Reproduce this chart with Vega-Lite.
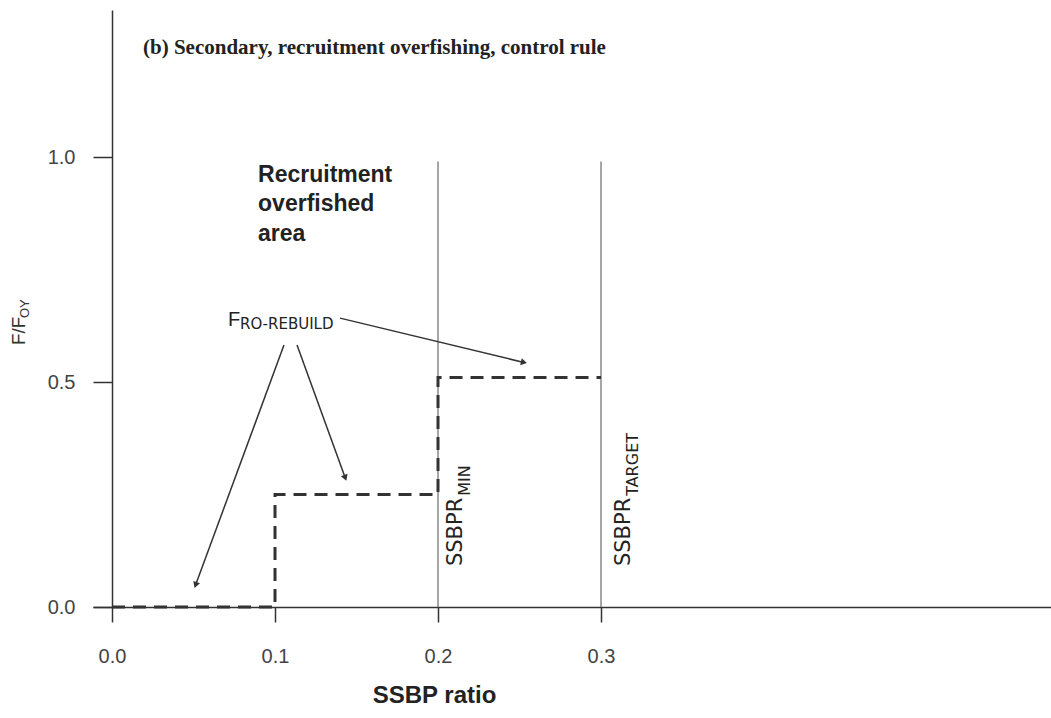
{
  "$schema": "https://vega.github.io/schema/vega-lite/v6.json",
  "autosize": "none",
  "padding": {"left": 93, "top": 10, "right": 0, "bottom": 111},
  "width": 958,
  "height": 597,
  "background": "white",
  "config": {"view": {"stroke": null}},
  "encoding": {
    "x": {
      "field": "x", "type": "quantitative",
      "scale": {"domain": [-0.01166, 0.57607], "nice": false, "zero": false},
      "axis": {
        "values": [0, 0.1, 0.2, 0.3], "format": ".1f", "grid": false,
        "domainColor": "#333", "domainWidth": 1.5,
        "tickColor": "#333", "tickWidth": 1.5, "tickSize": 15,
        "labelFont": "Liberation Sans", "labelFontSize": 20, "labelColor": "#444", "labelPadding": 24,
        "title": "SSBP ratio", "titleFont": "Liberation Sans", "titleFontSize": 24, "titleFontWeight": "bold",
        "titleColor": "#222", "titleX": 341, "titleY": 95, "titleBaseline": "alphabetic", "titleAlign": "center"
      }
    },
    "y": {
      "field": "y", "type": "quantitative",
      "scale": {"domain": [0, 1.3267], "nice": false, "zero": false},
      "axis": {
        "values": [0, 0.5, 1.0], "format": ".1f", "grid": false, "offset": -19,
        "domainColor": "#333", "domainWidth": 1.5,
        "tickColor": "#333", "tickWidth": 1.5, "tickSize": 19,
        "labelFont": "Liberation Sans", "labelFontSize": 20, "labelColor": "#444", "labelPadding": 18,
        "title": null
      }
    }
  },
  "layer": [
    {
      "data": {"values": [
        {"x": 0.2, "y": 0, "y2": 0.99},
        {"x": 0.3, "y": 0, "y2": 0.99}
      ]},
      "mark": {"type": "rule", "color": "#777", "strokeWidth": 1.3},
      "encoding": {"y2": {"field": "y2"}}
    },
    {
      "data": {"values": [
        {"x": 0.0, "y": 0.0, "o": 1},
        {"x": 0.1, "y": 0.0, "o": 2},
        {"x": 0.1, "y": 0.25, "o": 3},
        {"x": 0.2, "y": 0.25, "o": 4},
        {"x": 0.2, "y": 0.51, "o": 5},
        {"x": 0.3, "y": 0.51, "o": 6}
      ]},
      "mark": {"type": "line", "color": "#333", "strokeWidth": 3, "strokeDash": [13, 8]},
      "encoding": {"order": {"field": "o", "type": "quantitative"}}
    },
    {
      "data": {"values": [
        {"x": 0.1055, "y": 0.582, "x2": 0.0515, "y2": 0.051},
        {"x": 0.1135, "y": 0.582, "x2": 0.1429, "y2": 0.289},
        {"x": 0.1399, "y": 0.642, "x2": 0.2521, "y2": 0.544}
      ]},
      "mark": {"type": "rule", "color": "#333", "strokeWidth": 1.5},
      "encoding": {"x2": {"field": "x2"}, "y2": {"field": "y2"}}
    },
    {
      "data": {"values": [
        {"x": 0.0515, "y": 0.051, "angle": 200},
        {"x": 0.1429, "y": 0.289, "angle": 160},
        {"x": 0.2521, "y": 0.544, "angle": 103}
      ]},
      "mark": {"type": "point", "shape": "triangle", "filled": true, "color": "#333", "size": 50, "opacity": 1},
      "encoding": {"angle": {"field": "angle", "type": "quantitative", "scale": null}}
    },
    {
      "data": {"values": [
        {"x": 0.019, "y": 1.229, "text": "(b) Secondary, recruitment overfishing, control rule"}
      ]},
      "mark": {"type": "text", "font": "Liberation Serif", "fontWeight": "bold", "fontSize": 21, "color": "#222", "align": "left", "baseline": "alphabetic"},
      "encoding": {"text": {"field": "text"}}
    },
    {
      "data": {"values": [
        {"x": 0.0896, "y": 0.944, "text": "Recruitment"},
        {"x": 0.0896, "y": 0.880, "text": "overfished"},
        {"x": 0.0896, "y": 0.813, "text": "area"}
      ]},
      "mark": {"type": "text", "font": "Liberation Sans", "fontWeight": "bold", "fontSize": 23, "color": "#222", "align": "left", "baseline": "alphabetic"},
      "encoding": {"text": {"field": "text"}}
    },
    {
      "data": {"values": [
        {"x": 0.0712, "y": 0.624, "text": "F"}
      ]},
      "mark": {"type": "text", "font": "Liberation Sans", "fontSize": 20, "color": "#222", "align": "left", "baseline": "alphabetic"},
      "encoding": {"text": {"field": "text"}}
    },
    {
      "data": {"values": [
        {"x": 0.0785, "y": 0.617, "text": "RO-REBUILD"}
      ]},
      "mark": {"type": "text", "font": "DejaVu Sans", "fontSize": 15, "color": "#222", "align": "left", "baseline": "alphabetic"},
      "encoding": {"text": {"field": "text"}}
    },
    {
      "data": {"values": [
        {"x": 0.2147, "y": 0.091, "text": "SSBPR"},
        {"x": 0.3178, "y": 0.091, "text": "SSBPR"}
      ]},
      "mark": {"type": "text", "font": "DejaVu Sans", "fontSize": 21, "color": "#222", "align": "left", "baseline": "alphabetic", "angle": 270},
      "encoding": {"text": {"field": "text"}}
    },
    {
      "data": {"values": [
        {"x": 0.2196, "y": 0.247, "text": "MIN"},
        {"x": 0.3227, "y": 0.247, "text": "TARGET"}
      ]},
      "mark": {"type": "text", "font": "DejaVu Sans", "fontSize": 16, "color": "#222", "align": "left", "baseline": "alphabetic", "angle": 270},
      "encoding": {"text": {"field": "text"}}
    },
    {
      "data": {"values": [
        {"x": -0.0534, "y": 0.582, "text": "F/F"}
      ]},
      "mark": {"type": "text", "font": "Liberation Sans", "fontSize": 19, "color": "#333", "align": "left", "baseline": "alphabetic", "angle": 270},
      "encoding": {"text": {"field": "text"}}
    },
    {
      "data": {"values": [
        {"x": -0.0509, "y": 0.642, "text": "OY"}
      ]},
      "mark": {"type": "text", "font": "Liberation Sans", "fontSize": 13, "color": "#333", "align": "left", "baseline": "alphabetic", "angle": 270},
      "encoding": {"text": {"field": "text"}}
    }
  ]
}
